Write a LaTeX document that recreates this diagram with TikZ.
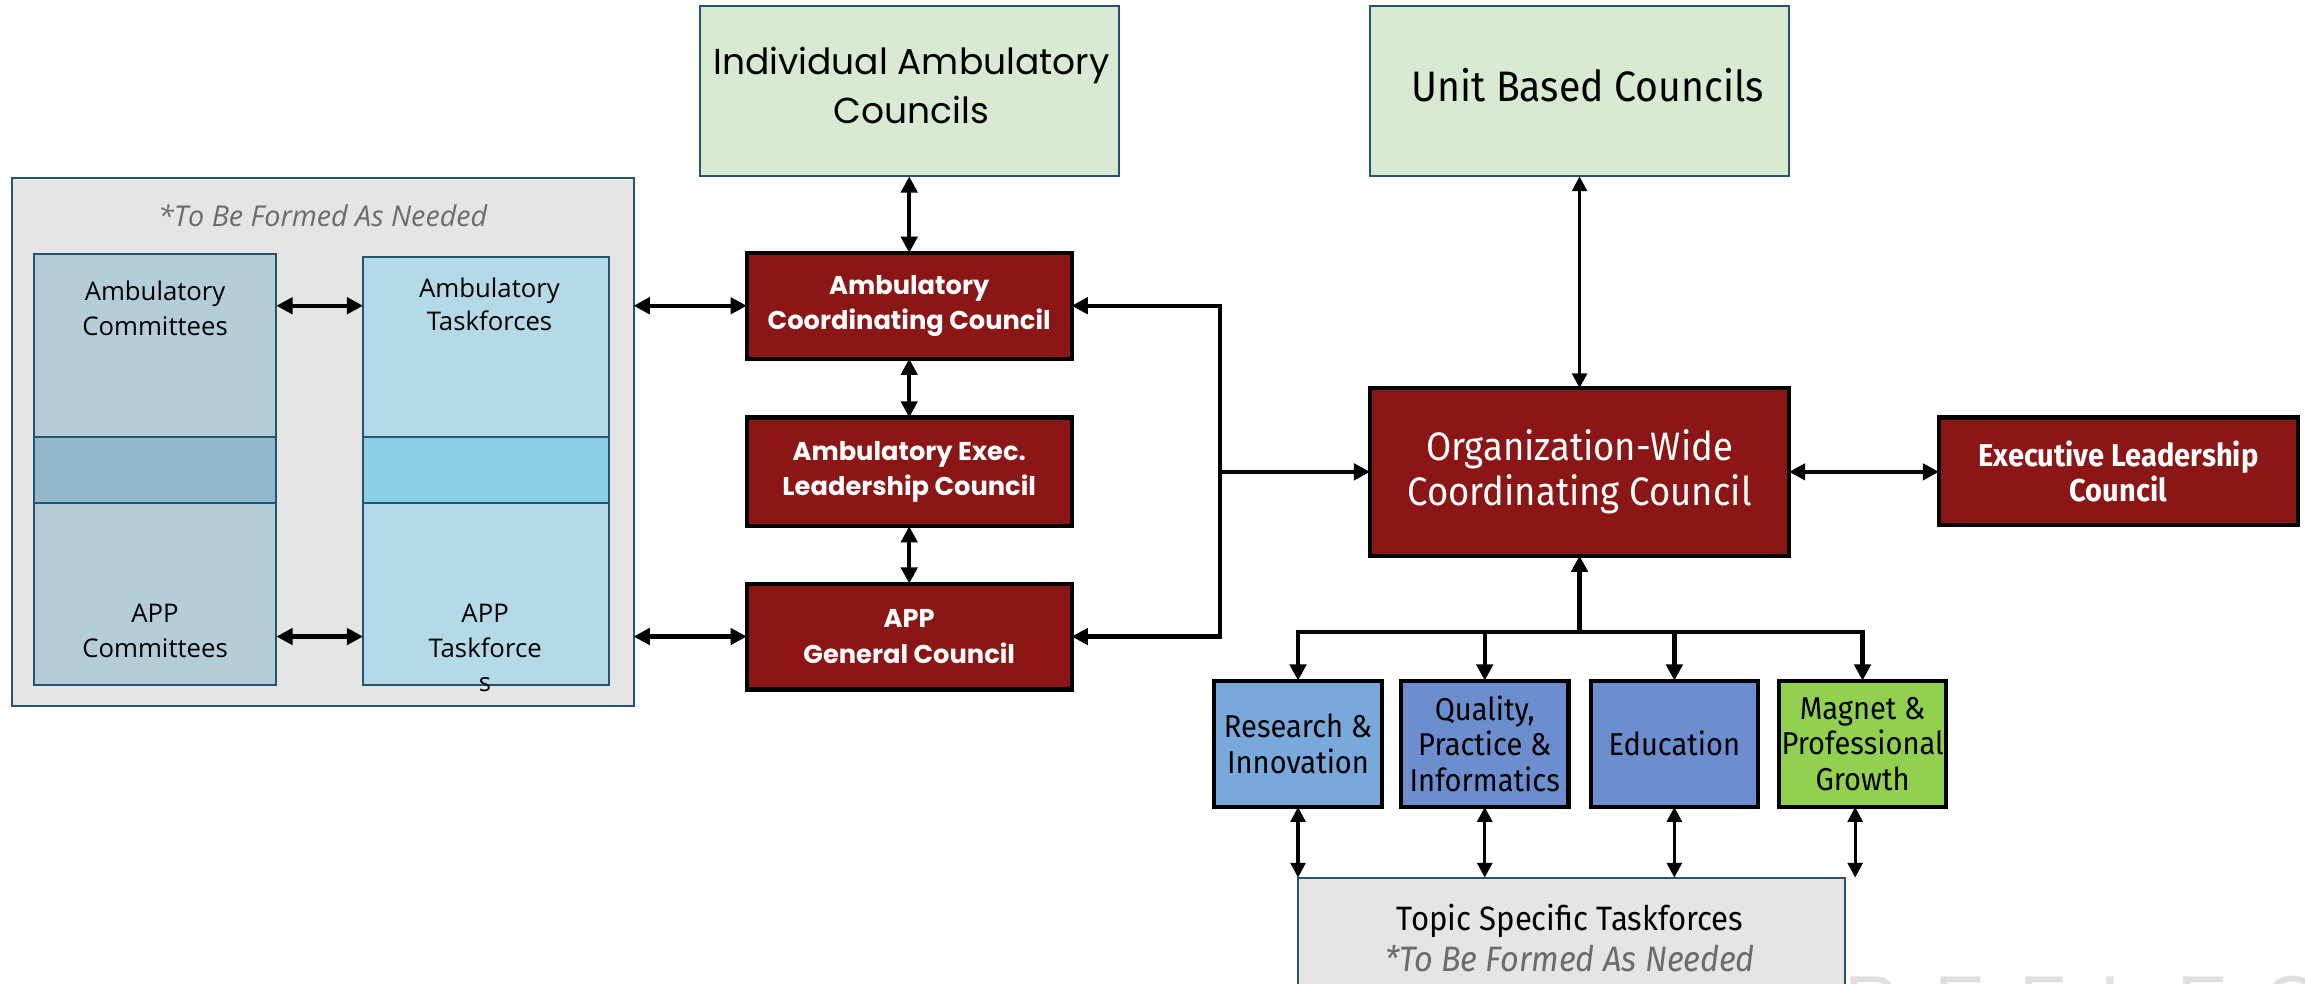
\documentclass[tikz,border=0pt]{standalone}
\usepackage{fontspec}
\setmainfont{Open Sans}
\newfontfamily\geo{Poppins}
\newfontfamily\cond[FakeStretch=0.92]{Fira Sans}
\newfontfamily\wmfont[LetterSpace=45]{Liberation Sans}
\usetikzlibrary{arrows.meta}

\definecolor{cred}{HTML}{8B1616}
\definecolor{mint}{HTML}{D9EAD3}
\definecolor{edge}{HTML}{24546E}
\definecolor{panel}{HTML}{E5E5E5}
\definecolor{commfill}{HTML}{B5CDD8}
\definecolor{commband}{HTML}{91B9CB}
\definecolor{taskfill}{HTML}{B4D9E7}
\definecolor{taskband}{HTML}{8ACFE6}
\definecolor{resfill}{HTML}{78A9DA}
\definecolor{qualfill}{HTML}{6C8ECF}
\definecolor{magfill}{HTML}{92D050}
\definecolor{note}{HTML}{6B6B6B}

\tikzset{
  plain/.style={inner sep=0pt, outer sep=0pt, align=center},
  panelbox/.style={plain, draw=edge, line width=1.3pt, fill=panel},
  greenbox/.style={plain, draw=edge, line width=1.3pt, fill=mint},
  colbox/.style={plain, draw=edge, line width=1.3pt},
  council/.style={plain, draw=black, line width=2.8pt, fill=cred, text=white},
  topicbox/.style={plain, draw=black, line width=2.8pt},
  label/.style={plain, text=black},
  twoway/.style={line width=3pt, {Triangle[length=11pt,width=11pt]}-{Triangle[length=11pt,width=11pt]}},
  twowaythin/.style={line width=2.2pt, {Triangle[length=10pt,width=10pt]}-{Triangle[length=10pt,width=10pt]}},
  oneway/.style={line width=3pt, -{Triangle[length=11pt,width=11pt]}},
  backway/.style={line width=3pt, {Triangle[length=11pt,width=11pt]}-},
}

\begin{document}
\begin{tikzpicture}[x=1pt,y=-1pt]
\useasboundingbox (0,0) rectangle (1568,669);

% ---- left panel: committees and taskforces ----
\node[panelbox, minimum width=423pt, minimum height=359pt] (formed) at (219.5,300.5) {};
\node[label, text=note, font=\itshape\fontsize{19.5}{22}\selectfont] (formednote) at (219.5,147) {*To Be Formed As Needed};

\node[colbox, fill=commfill, minimum width=165pt, minimum height=293pt] (comm) at (105.5,319.5) {};
\node[colbox, fill=commband, minimum width=165pt, minimum height=45pt] (commmid) at (105.5,319.5) {};
\node[colbox, fill=taskfill, minimum width=167pt, minimum height=291pt] (task) at (330.5,320.5) {};
\node[colbox, fill=taskband, minimum width=167pt, minimum height=45pt] (taskmid) at (330.5,319.5) {};

\node[label, font=\fontsize{17.5}{24}\selectfont] (commtop) at (105.5,210) {Ambulatory\\Committees};
\node[label, font=\fontsize{17.5}{24}\selectfont] (commbot) at (105.5,429) {APP\\Committees};
\node[label, font=\fontsize{17.5}{23}\selectfont] (tasktop) at (333,207) {Ambulatory\\Taskforces};
\node[label, font=\fontsize{17.5}{23.5}\selectfont] (taskbot) at (330,441) {APP\\Taskforce\\s};

% ---- ambulatory councils ----
\node[greenbox, minimum width=285pt, minimum height=116pt] (indiv) at (618.5,62) {};
\node[label, font=\geo\fontsize{24.5}{33}\selectfont] (indivtext) at (620,58) {Individual Ambulatory\\Councils};

\node[council, minimum width=221pt, minimum height=72pt, font=\geo\bfseries\fontsize{17.5}{24}\selectfont] (ambc) at (618.5,208) {Ambulatory\\Coordinating Council};
\node[council, minimum width=221pt, minimum height=74pt, font=\geo\bfseries\fontsize{17.5}{24}\selectfont] (ambx) at (618.5,321) {Ambulatory Exec.\\Leadership Council};
\node[council, minimum width=221pt, minimum height=72pt, font=\geo\bfseries\fontsize{17.5}{24}\selectfont] (app) at (618.5,433) {APP\\General Council};

% ---- organisation-wide side ----
\node[greenbox, minimum width=285pt, minimum height=116pt] (unit) at (1074.5,62) {};
\node[label, font=\cond\fontsize{29}{32}\selectfont] (unittext) at (1080,58) {Unit Based Councils};

\node[council, minimum width=285pt, minimum height=114pt, font=\cond\fontsize{27}{31}\selectfont] (org) at (1074.5,321) {Organization-Wide\\Coordinating Council};
\node[council, minimum width=244pt, minimum height=73pt, font=\cond\bfseries\fontsize{21.5}{24}\selectfont] (exec) at (1441,320.5) {Executive Leadership\\Council};

\node[topicbox, fill=resfill, minimum width=114pt, minimum height=86pt, font=\cond\fontsize{21.5}{24}\selectfont] (res) at (883,506) {Research \&\\Innovation};
\node[topicbox, fill=qualfill, minimum width=114pt, minimum height=86pt, font=\cond\fontsize{21.5}{24}\selectfont] (qual) at (1010,506) {Quality,\\Practice \&\\Informatics};
\node[topicbox, fill=qualfill, minimum width=114pt, minimum height=86pt, font=\cond\fontsize{21.5}{24}\selectfont] (edu) at (1139,506) {Education};
\node[topicbox, fill=magfill, minimum width=114pt, minimum height=86pt, font=\cond\fontsize{21.5}{24}\selectfont] (mag) at (1267,506) {Magnet \&\\Professional\\Growth};

\node[panelbox, minimum width=372pt, minimum height=110pt] (topic) at (1069,652) {};
\node[label, font=\cond\fontsize{23}{28}\selectfont] (topictext) at (1068,638) {Topic Specific Taskforces\\{\color{note}\itshape\fontsize{24}{28}\selectfont *To Be Formed As Needed}};

% faint lettering along the lower edge
\node[plain, anchor=north west, text=gray!25, font=\wmfont\fontsize{52}{52}\selectfont] (mark) at (1255,664) {REFLECTIO};

% ---- connectors ----
\coordinate (bus) at (830,321);
\coordinate (hub) at (1074.5,430);

\draw[twoway] (comm.east |- ambc) -- (task.west |- ambc);
\draw[twoway] (comm.east |- app) -- (task.west |- app);
\draw[twoway] (formed.east |- ambc) -- (ambc.west);
\draw[twoway] (formed.east |- app) -- (app.west);

\draw[twoway] (indiv) -- (ambc);
\draw[twoway] (ambc) -- (ambx);
\draw[twoway] (ambx) -- (app);

\draw[twoway] (ambc.east) -| (bus) |- (app.east);
\draw[oneway] (bus) -- (org.west);

\draw[twowaythin] (unit) -- (org);
\draw[twoway] (org.east) -- (exec.west |- org);

\draw[backway] (org.south) -- (hub);
\draw[oneway] (hub) -| (res.north);
\draw[oneway] (hub) -| (qual.north);
\draw[oneway] (hub) -| (edu.north);
\draw[oneway] (hub) -| (mag.north);

\draw[twowaythin] (res.south) -- (res.south |- topic.north);
\draw[twowaythin] (qual.south) -- (qual.south |- topic.north);
\draw[twowaythin] (edu.south) -- (edu.south |- topic.north);
\draw[twowaythin] ([xshift=-5pt]mag.south) -- ([xshift=-5pt]mag.south |- topic.north);
\end{tikzpicture}
\end{document}
